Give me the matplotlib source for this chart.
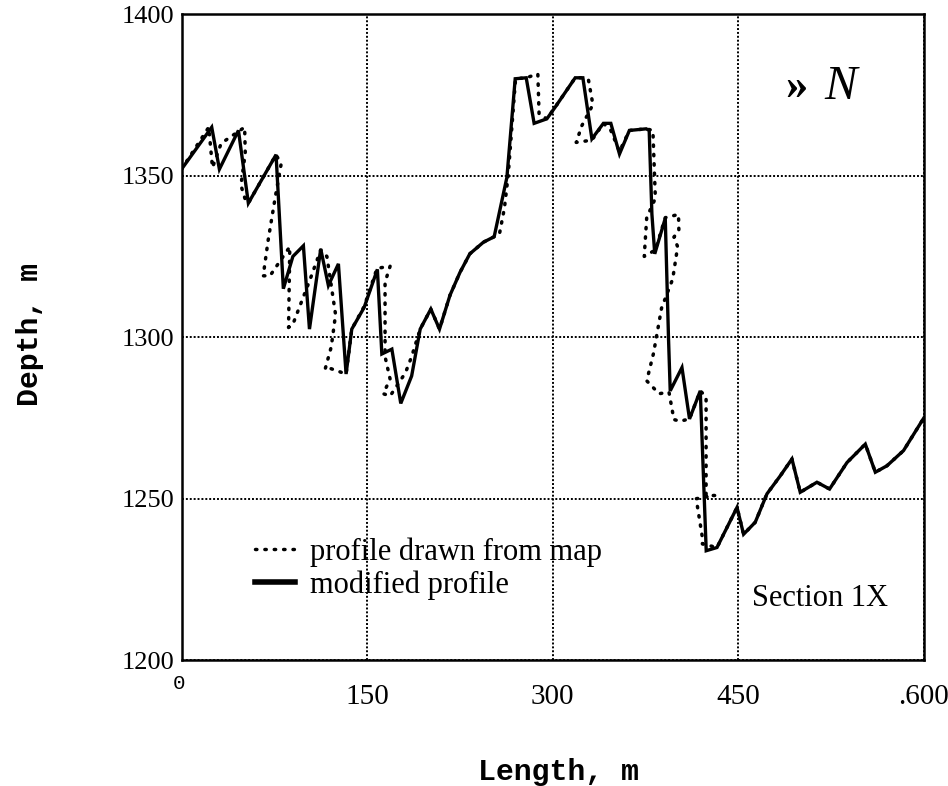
import matplotlib
matplotlib.use("Agg")
import matplotlib.pyplot as plt
from matplotlib.lines import Line2D

# modified profile (solid)
modified_len = [0, 24.4, 30.6, 46, 54, 76.4, 82.3, 90, 98.5, 103.4, 112.5, 118.7,
                126.8, 133, 137.6, 147.6, 158.3, 161.9, 170, 177.2, 186, 192.9,
                201.5, 208.5, 217, 225, 233, 244, 252.7, 263, 269.7, 278.6, 285,
                295.3, 302, 318.2, 324.4, 331.7, 341, 347, 354, 362, 375.6, 378,
                380.2, 382.5, 391, 393.6, 395, 404.5, 410.6, 419.3, 424.1, 432.8,
                449, 454.3, 463.7, 473.2, 484, 493.4, 500.1, 513.6, 523.8, 537.9,
                552.7, 560.8, 570.2, 583.6, 600]
modified_depth = [1352, 1365, 1352, 1364, 1341.5, 1356.5, 1315, 1325, 1328.3, 1302.5,
                  1327.3, 1316, 1322.7, 1288.6, 1302.5, 1309.2, 1321, 1294.8, 1296.3,
                  1279.5, 1288, 1302.5, 1308.7, 1302.5, 1313, 1320, 1325.8, 1329.4,
                  1331.1, 1349.5, 1380, 1380.3, 1366.2, 1367.6, 1371.2, 1380.3, 1380.3,
                  1361.4, 1366.2, 1366.2, 1356.7, 1364, 1364.5, 1364, 1338.1, 1325.8,
                  1336.8, 1300, 1283.4, 1290.6, 1274.7, 1283.4, 1233.9, 1234.9, 1247.3,
                  1239, 1242.7, 1251.5, 1257.1, 1262.3, 1252, 1255.1, 1253, 1261.2,
                  1266.9, 1258.2, 1260.2, 1264.9, 1275]

# profile drawn from map (dotted)
map_len = [0, 22, 25, 32, 51, 51.5, 48, 52, 54, 76.4, 80.5, 75.6, 70, 66, 71.5, 87.5,
           86.5, 90, 104, 112.5, 117.5, 124.5, 121, 116, 119, 133, 137.6, 147.6, 158,
           168.6, 164.5, 164.5, 168.6, 163, 168.6, 181, 186, 192.9, 201.5, 208.5, 217,
           225, 233, 244, 252.7, 257, 261, 264, 270, 278.6, 288, 289, 295.3, 302,
           318.2, 324.4, 329, 332.5, 323.6, 319, 331.7, 341, 347, 354, 362, 375.6, 381,
           383, 376, 374, 383, 391, 401.7, 402, 398, 401, 397, 388, 381.5, 376, 386,
           394, 398, 403, 410.6, 419.3, 424, 424, 431, 416, 421, 421, 432.8, 449,
           454.3, 463.7, 473.2, 484, 493.4, 500.1, 513.6, 523.8, 537.9, 552.7, 560.8,
           570.2, 583.6, 600]
map_depth = [1352, 1365, 1352.5, 1360, 1365, 1357, 1347, 1342, 1341.5, 1356.5, 1353.6,
             1343, 1330, 1319, 1319, 1328, 1303, 1304, 1318, 1327, 1325, 1307, 1297,
             1290, 1290.5, 1288.6, 1302.5, 1309.5, 1321.3, 1322, 1317, 1294, 1287,
             1282.5, 1281.8, 1289, 1294, 1302.5, 1308.7, 1302.5, 1313, 1320, 1325.8,
             1329.4, 1331.1, 1332, 1340, 1350, 1380, 1380.3, 1381.5, 1369, 1367.6,
             1371.2, 1380.3, 1380.3, 1379.5, 1372, 1365.5, 1360.3, 1361, 1366.2, 1364,
             1357.5, 1364, 1364.5, 1364, 1343, 1337, 1325, 1327, 1337, 1338, 1333, 1331,
             1328, 1318, 1309, 1295, 1286.5, 1282.5, 1283, 1274.5, 1274, 1274.7, 1283.4,
             1281.5, 1251, 1251, 1250, 1238, 1236, 1234.9, 1247.3, 1239, 1242.7, 1251.5,
             1257.1, 1262.3, 1252, 1255.1, 1253, 1261.2, 1266.9, 1258.2, 1260.2, 1264.9,
             1275]

x_ticks = [0, 150, 300, 450, 600]
x_ticklabels = ["", "150", "300", "450", ".600"]
y_ticks = [1200, 1250, 1300, 1350, 1400]
y_ticklabels = ["1200", "1250", "1300", "1350", "1400"]

serif = "Liberation Serif"
mono = "Liberation Mono"

fig = plt.figure(figsize=(9.48, 7.86), dpi=100)
ax = fig.add_axes([0.1915, 0.160, 0.783, 0.822])

ax.plot(map_len, map_depth, color="black", lw=2.5, linestyle=(0, (0.4, 2.3)),
        dash_capstyle="round", zorder=2)
ax.plot(modified_len, modified_depth, color="black", lw=2.4,
        solid_joinstyle="miter", zorder=3)

ax.set_xlim(0, 600)
ax.set_ylim(1200, 1400)
ax.set_xticks(x_ticks)
ax.set_xticklabels(x_ticklabels, family=serif, fontsize=21)
ax.set_yticks(y_ticks)
ax.set_yticklabels(y_ticklabels, family=serif, fontsize=19)
ax.tick_params(axis="x", length=0, pad=17)
ax.tick_params(axis="y", length=0, pad=5)
ax.grid(True, color="black", linestyle=(0, (1, 1)), lw=1.4, zorder=1)
for s in ax.spines.values():
    s.set_linewidth(1.8)

# origin label sits apart from the other ticks
ax.text(-0.004, -0.036, "0", transform=ax.transAxes, family=mono, fontsize=15,
        ha="center", va="center")

handles = [Line2D([], [], color="black", lw=2.5, linestyle=(0, (0.4, 2.3)),
                  dash_capstyle="round"),
           Line2D([], [], color="black", lw=4)]
leg = ax.legend(handles, ["profile drawn from map", "modified profile"],
                loc="upper left", bbox_to_anchor=(0.099, 0.19), frameon=False,
                prop={"family": serif, "size": 22}, handlelength=1.3,
                handletextpad=0.5, labelspacing=0.1, borderpad=0, borderaxespad=0)

ax.text(0.86, 0.096, "Section 1X", transform=ax.transAxes, family=serif,
        fontsize=22, ha="center", va="center")
ax.text(0.829, 0.886, "\u00bb", transform=ax.transAxes, family=serif,
        fontsize=32, ha="center", va="center", fontweight="bold")
ax.text(0.888, 0.888, "N", transform=ax.transAxes, family=serif,
        fontsize=35, ha="center", va="center", style="italic")

fig.text(0.589, 0.018, "Length, m", family=mono, fontweight="bold", fontsize=21.5,
         ha="center", va="center")
fig.text(0.032, 0.574, "Depth, m", family=mono, fontweight="bold", fontsize=21.5,
         ha="center", va="center", rotation=90)

fig.savefig("out.png", dpi=100)
